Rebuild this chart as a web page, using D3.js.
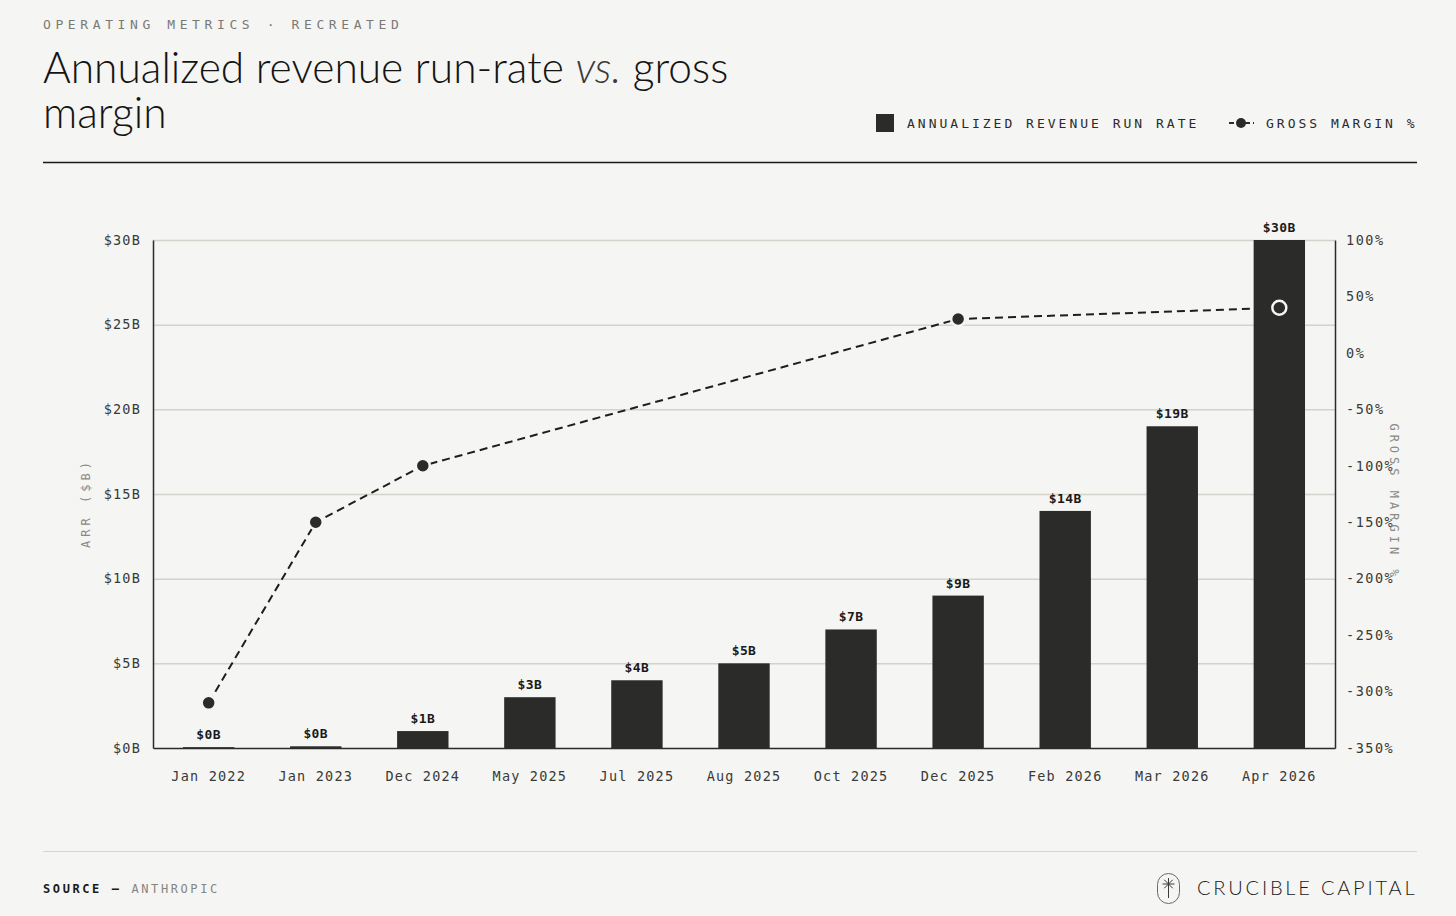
<!DOCTYPE html>
<html>
<head>
<meta charset="utf-8">
<script src="https://cdn.jsdelivr.net/npm/d3@7"></script>
<style>
  html, body { margin: 0; padding: 0; background: #f5f5f3; }
  svg { display: block; }
  .mono { font-family: "DejaVu Sans Mono", "Liberation Mono", monospace; }
</style>
</head>
<body>
<div id="chart"></div>
<script>
// data
var categories = ["Jan 2022", "Jan 2023", "Dec 2024", "May 2025", "Jul 2025", "Aug 2025",
                  "Oct 2025", "Dec 2025", "Feb 2026", "Mar 2026", "Apr 2026"];
var arrValues = [0.05, 0.1, 1, 3, 4, 5, 7, 9, 14, 19, 30];
var grossMargin = [-310, -150, -100, null, null, null, null, 30, null, null, 40];
var arrTicks = [0, 5, 10, 15, 20, 25, 30];
var gmTicks = [100, 50, 0, -50, -100, -150, -200, -250, -300, -350];

var W = 1456, H = 916;
var ink = "#2b2b29", grey = "#7a7a76", bg = "#f5f5f3";

var svg = d3.select("#chart").append("svg")
    .attr("width", W).attr("height", H);

svg.append("rect").attr("width", W).attr("height", H).attr("fill", bg);

// header
svg.append("text").attr("class", "mono")
    .attr("x", 43).attr("y", 29)
    .attr("font-size", 13).attr("letter-spacing", 4.6)
    .attr("fill", grey)
    .text("OPERATING METRICS · RECREATED");

var title = svg.append("text")
    .attr("font-family", "Lato, 'Noto Sans', sans-serif")
    .attr("font-weight", 300)
    .attr("font-size", 42.5)
    .attr("fill", "#141414");
var l1 = title.append("tspan").attr("x", 43).attr("y", 83);
l1.append("tspan").text("Annualized revenue run-rate ");
l1.append("tspan").attr("font-style", "italic").attr("fill", "#3a3a38").text("vs.");
l1.append("tspan").text(" gross");
title.append("tspan").attr("x", 43).attr("y", 128).text("margin");

// legend
var lg = svg.append("g").attr("class", "mono").attr("font-size", 13).attr("fill", ink);
lg.append("rect").attr("x", 876).attr("y", 114).attr("width", 18).attr("height", 18).attr("fill", ink);
lg.append("text").attr("x", 907).attr("y", 128).attr("letter-spacing", 3)
    .text("ANNUALIZED REVENUE RUN RATE");
lg.append("line").attr("x1", 1229).attr("x2", 1254).attr("y1", 123).attr("y2", 123)
    .attr("stroke", ink).attr("stroke-width", 2).attr("stroke-dasharray", "5,3");
lg.append("circle").attr("cx", 1241).attr("cy", 123).attr("r", 5).attr("fill", ink);
lg.append("text").attr("x", 1266).attr("y", 128).attr("letter-spacing", 3)
    .text("GROSS MARGIN %");

svg.append("line").attr("x1", 43).attr("x2", 1417).attr("y1", 162.5).attr("y2", 162.5)
    .attr("stroke", "#1a1a1a").attr("stroke-width", 1.5);

// chart area
var plotLeft = 153, plotRight = 1335, plotTop = 240, plotBottom = 748;

var x = d3.scaleBand().domain(categories).range([plotLeft, plotRight])
    .paddingInner(0.52).paddingOuter(0.28);
var y = d3.scaleLinear().domain([0, 30]).range([plotBottom, plotTop]);
var y2 = d3.scaleLinear().domain([-350, 100]).range([plotBottom, plotTop]);

// grid
svg.append("g").selectAll("line").data(arrTicks.filter(function (d) { return d > 0; }))
  .enter().append("line")
    .attr("x1", plotLeft).attr("x2", plotRight)
    .attr("y1", function (d) { return y(d) + 0.5; })
    .attr("y2", function (d) { return y(d) + 0.5; })
    .attr("stroke", "#d3d3cb").attr("stroke-width", 1.5);

// left axis
var yAxis = svg.append("g").attr("transform", "translate(" + plotLeft + ",0)")
    .call(d3.axisLeft(y).tickValues(arrTicks).tickSize(0).tickPadding(12)
      .tickFormat(function (d) { return "$" + d + "B"; }));
yAxis.select(".domain").attr("stroke", ink).attr("stroke-width", 1.5);
yAxis.selectAll("text").attr("class", "mono").attr("font-size", 13.5)
    .attr("letter-spacing", 1.2).attr("fill", "#3a3a38");

// right axis
var y2Axis = svg.append("g").attr("transform", "translate(" + plotRight + ",0)")
    .call(d3.axisRight(y2).tickValues(gmTicks).tickSize(0).tickPadding(11)
      .tickFormat(function (d) { return d + "%"; }));
y2Axis.select(".domain").attr("stroke", ink).attr("stroke-width", 1.5);
y2Axis.selectAll("text").attr("class", "mono").attr("font-size", 13.5)
    .attr("letter-spacing", 1.5).attr("fill", "#3a3a38");

// bottom axis
var xAxis = svg.append("g").attr("transform", "translate(0," + plotBottom + ")")
    .call(d3.axisBottom(x).tickSize(0).tickPadding(23));
xAxis.select(".domain").attr("stroke", ink).attr("stroke-width", 1.5);
xAxis.selectAll("text").attr("class", "mono").attr("font-size", 13.5)
    .attr("letter-spacing", 1.2).attr("fill", "#3a3a38");

// axis titles
svg.append("text").attr("class", "mono")
    .attr("transform", "translate(90,503) rotate(-90)")
    .attr("text-anchor", "middle").attr("font-size", 12).attr("letter-spacing", 4)
    .attr("fill", "#8a8a86").text("ARR ($B)");
svg.append("text").attr("class", "mono")
    .attr("transform", "translate(1390,502) rotate(90)")
    .attr("text-anchor", "middle").attr("font-size", 12).attr("letter-spacing", 4)
    .attr("fill", "#8a8a86").text("GROSS MARGIN %");

// margin line (under the bars)
var pts = categories.map(function (c, i) { return { c: c, v: grossMargin[i] }; })
    .filter(function (d) { return d.v !== null; });
var line = d3.line()
    .x(function (d) { return x(d.c) + x.bandwidth() / 2; })
    .y(function (d) { return y2(d.v); });
svg.append("path").datum(pts).attr("d", line)
    .attr("fill", "none").attr("stroke", "#1e1e1c").attr("stroke-width", 2)
    .attr("stroke-dasharray", "8,5");

// bars
svg.append("g").selectAll("rect").data(arrValues).enter().append("rect")
    .attr("x", function (d, i) { return x(categories[i]); })
    .attr("y", function (d) { return y(d); })
    .attr("width", x.bandwidth())
    .attr("height", function (d) { return plotBottom - y(d); })
    .attr("fill", ink);

// bar labels
svg.append("g").selectAll("text").data(arrValues).enter().append("text")
    .attr("class", "mono")
    .attr("x", function (d, i) { return x(categories[i]) + x.bandwidth() / 2; })
    .attr("y", function (d) { return y(d) - 8; })
    .attr("text-anchor", "middle")
    .attr("font-size", 13).attr("font-weight", "bold").attr("letter-spacing", 0.4)
    .attr("fill", "#1a1a1a")
    .text(function (d) { return "$" + d3.format(".0f")(d) + "B"; });

// margin points
svg.append("g").selectAll("circle").data(pts).enter().append("circle")
    .attr("cx", function (d) { return x(d.c) + x.bandwidth() / 2; })
    .attr("cy", function (d) { return y2(d.v); })
    .attr("r", 7)
    .attr("fill", ink).attr("stroke", bg).attr("stroke-width", 2.5);

// footer
svg.append("line").attr("x1", 43).attr("x2", 1417).attr("y1", 851.5).attr("y2", 851.5)
    .attr("stroke", "#d6d6cf").attr("stroke-width", 1.2);
var src = svg.append("text").attr("class", "mono")
    .attr("x", 43).attr("y", 893).attr("font-size", 12).attr("letter-spacing", 2.6);
src.append("tspan").attr("font-weight", "bold").attr("fill", "#1a1a1a").text("SOURCE — ");
src.append("tspan").attr("fill", "#85857f").text("ANTHROPIC");

// logo mark
var logo = svg.append("g").attr("stroke", "#3a3a38").attr("fill", "none").attr("stroke-width", 1);
logo.append("rect").attr("x", 1157.5).attr("y", 873.5).attr("width", 22).attr("height", 30)
    .attr("rx", 11).attr("stroke", "#6a6a66");
[0, 45, 90, 135].forEach(function (a) {
  var r = a * Math.PI / 180;
  logo.append("line")
      .attr("x1", 1168.5 - 6 * Math.cos(r)).attr("y1", 884 - 6 * Math.sin(r))
      .attr("x2", 1168.5 + 6 * Math.cos(r)).attr("y2", 884 + 6 * Math.sin(r));
});
logo.append("line").attr("x1", 1168.5).attr("x2", 1168.5).attr("y1", 884).attr("y2", 898);

svg.append("text")
    .attr("x", 1197).attr("y", 895)
    .attr("font-family", "Lato, sans-serif").attr("font-weight", 300)
    .attr("font-size", 20).attr("letter-spacing", 2.8).attr("fill", "#1a1a1a")
    .text("CRUCIBLE CAPITAL");
</script>
</body>
</html>
